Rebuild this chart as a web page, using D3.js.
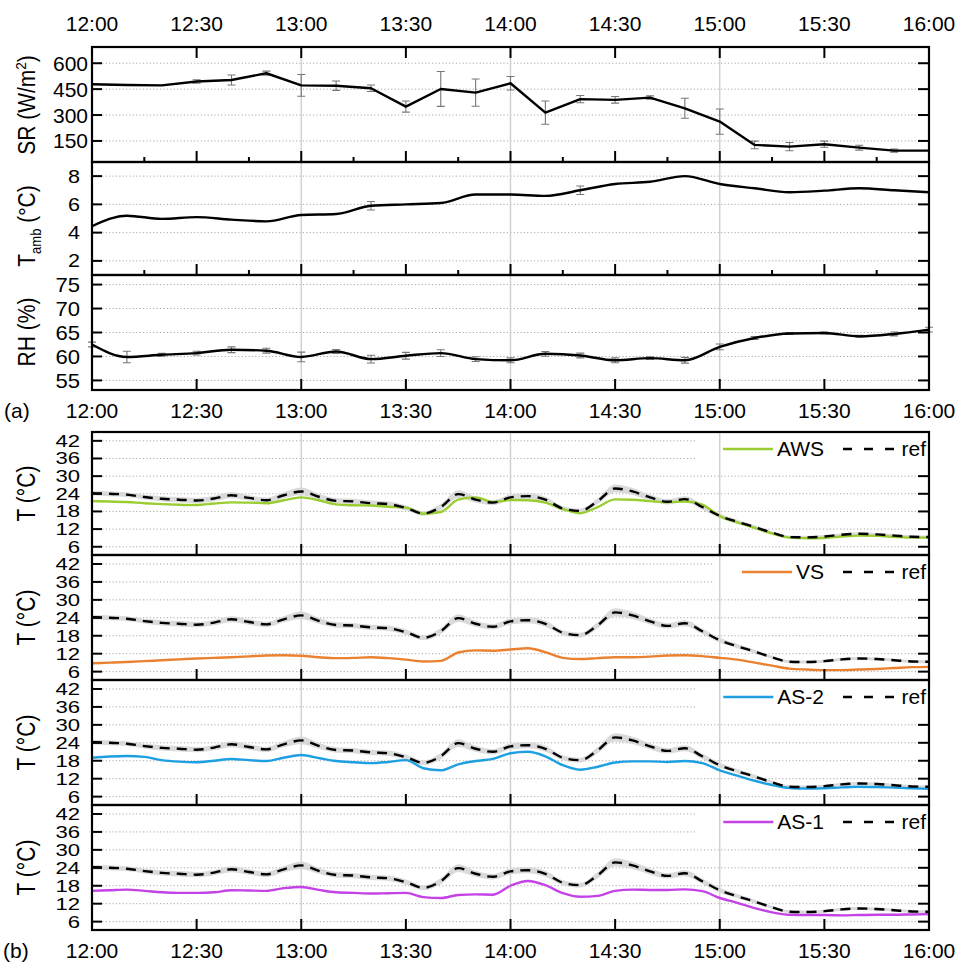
<!DOCTYPE html>
<html><head><meta charset="utf-8">
<script src="https://cdn.jsdelivr.net/npm/d3@7"></script>
<style>
body{margin:0;background:#fff}
svg{display:block}
text{font-family:"Liberation Sans",Arial,Helvetica,sans-serif;fill:#000}
</style>
</head><body>
<svg id="c" width="958" height="962"></svg>
<script>
// ---------- data ----------
const xTickLabels = ["12:00","12:30","13:00","13:30","14:00","14:30","15:00","15:30","16:00"];
const aTimes = ["12:00","12:10","12:20","12:30","12:40","12:50","13:00","13:10","13:20","13:30","13:40","13:50",
  "14:00","14:10","14:20","14:30","14:40","14:50","15:00","15:10","15:20","15:30","15:40","15:50","16:00"];
const srValues = [478,474,472,494,503,542,472,470,455,349,451,430,484,314,392,388,401,339,262,127,117,131,111,94,94];
const srErr    = [0,0,0,10,29,12,63,27,19,32,101,79,39,67,21,19,10,58,73,22,24,18,14,9,0];
const tambValues = [4.45,5.2,4.97,5.1,4.92,4.8,5.25,5.32,5.9,6.0,6.1,6.7,6.7,6.6,7.0,7.44,7.6,8.0,7.44,7.14,6.86,6.97,7.14,7.0,6.86];
const tambErr    = [0,0,0,0,0,0,0,0,0.3,0,0,0,0,0,0.3,0,0,0,0,0,0,0,0,0,0];
const rhValues = [62.5,59.9,60.35,60.7,61.4,61.2,59.9,61.05,59.45,60.15,60.7,59.45,59.2,60.55,60.2,59.2,59.65,59.2,62.0,63.85,64.8,64.9,64.2,64.7,65.6];
const rhErr    = [0.5,1.2,0.3,0.4,0.6,0.5,1.0,0.4,0.8,0.7,0.7,0.5,0.5,0.5,0.5,0.5,0.3,0.6,0.6,0.3,0.2,0.2,0.2,0.4,0.5];

const bTimes = ["12:00","12:05","12:10","12:15","12:20","12:25","12:30","12:35","12:40","12:45","12:50","12:55",
  "13:00","13:05","13:10","13:15","13:20","13:25","13:30","13:35","13:40","13:45","13:50","13:55",
  "14:00","14:05","14:10","14:15","14:20","14:25","14:30","14:35","14:40","14:45","14:50","14:55",
  "15:00","15:05","15:10","15:15","15:20","15:25","15:30","15:35","15:40","15:45","15:50","15:55","16:00"];
const refValues = [24.2,24.0,23.7,22.9,22.3,22.0,21.7,22.4,23.5,22.6,21.8,23.5,
  24.8,23.0,21.6,21.4,20.8,20.5,19.2,17.3,19.5,23.9,22.0,21.0,
  22.8,23.2,22.0,19.0,18.2,21.5,25.8,24.8,22.8,21.3,22.2,19.5,
  16.5,14.5,12.7,10.8,9.3,9.2,9.5,10.1,10.4,10.2,9.8,9.4,9.3];
const refSd = [0.8,0.8,0.8,0.8,0.9,0.9,0.9,0.9,1.0,0.9,0.9,1.0,
  1.3,1.0,0.9,0.9,0.9,0.9,0.9,0.8,1.0,1.3,1.0,0.9,
  1.0,1.0,1.0,0.8,0.8,1.0,1.4,1.2,1.0,0.9,1.0,0.9,
  0.8,0.7,0.6,0.5,0.5,0.5,0.5,0.5,0.5,0.5,0.5,0.5,0.5];
const awsValues = [21.5,21.4,21.2,20.8,20.5,20.3,20.2,20.7,21.1,21.0,20.8,21.8,
  22.8,21.8,20.4,20.1,20.0,19.6,19.3,17.2,17.8,22.0,22.8,21.2,
  21.9,21.8,21.0,18.8,17.4,19.5,22.1,22.0,21.5,21.1,21.4,20.3,
  16.4,14.3,12.4,10.5,9.1,8.9,9.0,9.5,9.8,9.7,9.4,9.1,9.2];
const vsValues = [8.8,9.0,9.2,9.5,9.8,10.1,10.4,10.6,10.8,11.1,11.4,11.5,
  11.3,10.8,10.5,10.6,10.8,10.5,10.0,9.4,9.6,12.4,13.1,13.0,
  13.4,13.8,12.5,10.6,10.2,10.5,10.8,10.8,11.0,11.4,11.5,11.2,
  10.6,10.0,9.0,8.0,7.0,6.7,6.5,6.5,6.7,6.9,7.2,7.5,7.6];
const as2Values = [19.0,19.4,19.6,19.3,18.2,17.7,17.5,18.0,18.6,18.2,17.9,19.0,
  19.9,18.9,17.9,17.5,17.2,17.6,18.2,15.5,14.8,16.8,17.9,18.6,
  20.5,21.0,19.5,16.5,15.0,16.0,17.4,17.8,17.8,17.6,17.9,17.2,
  14.8,13.0,11.3,9.9,8.9,8.7,8.8,9.1,9.3,9.2,9.0,8.8,8.6];
const as1Values = [16.3,16.5,16.7,16.3,15.8,15.6,15.6,15.8,16.5,16.4,16.3,17.2,
  17.6,16.6,15.8,15.6,15.4,15.5,15.6,14.2,13.9,14.9,15.1,15.0,
  18.0,19.6,18.2,15.5,14.3,14.6,16.3,16.7,16.6,16.6,16.8,16.2,
  13.9,12.3,10.5,9.1,8.3,8.2,8.2,8.1,8.2,8.3,8.3,8.4,8.5];
const seriesNames = ["AWS","VS","AS-2","AS-1"];
const seriesColors = ["#9acd32","#ea8131","#1d9fe2","#c443e6"];

const srTicks = [150,300,450,600];
const tambTicks = [2,4,6,8];
const rhTicks = [55,60,65,70,75];
const tTicks = [6,12,18,24,30,36,42];

// ---------- helpers ----------
const svg = d3.select("#c");
const toMin = s => { const [h,m] = s.split(":").map(Number); return (h-12)*60+m; };
const x = d3.scaleLinear().domain([0,240]).range([92,929]);
const L = 92, R = 929;
const majors = xTickLabels.map(toMin);
const minors = d3.range(15,240,30);

const layerGrid = svg.append("g");
const layerBox = svg.append("g");
const layerV = svg.append("g");
const layerData = svg.append("g");
const layerTop = svg.append("g");

function hGrid(y, ticks){
  layerGrid.append("g").selectAll("line").data(ticks).join("line")
    .attr("x1",L).attr("x2",R).attr("y1",d=>y(d)).attr("y2",d=>y(d))
    .attr("stroke","#a8a8a8").attr("stroke-width",1).attr("stroke-dasharray","1.2,2.2");
}
function yAxisMarks(g, y, ticks, opt){
  const rightTicks = opt.rightTicks || ticks;
  g.append("g").selectAll("line").data(ticks).join("line")
    .attr("x1",L).attr("x2",L+10).attr("y1",d=>y(d)).attr("y2",d=>y(d))
    .attr("stroke","#000").attr("stroke-width",2);
  g.append("g").selectAll("line").data(rightTicks).join("line")
    .attr("x1",R-11).attr("x2",R).attr("y1",d=>y(d)).attr("y2",d=>y(d))
    .attr("stroke","#000").attr("stroke-width",2);
  g.append("g").selectAll("text").data(ticks).join("text")
    .attr("transform",d=>`translate(${opt.labelX},${y(d)}) scale(${opt.sx||1},1)`)
    .attr("text-anchor","end").attr("dy","0.36em")
    .style("font-size",opt.fs+"px").text(d=>d);
}
function xMarks(g, yEdge, dir, withMinor){
  g.append("g").selectAll("line").data(majors.slice(1,-1)).join("line")
    .attr("x1",d=>x(d)).attr("x2",d=>x(d)).attr("y1",yEdge).attr("y2",yEdge+dir*11)
    .attr("stroke","#000").attr("stroke-width",2);
  if(withMinor){
    g.append("g").selectAll("line").data(minors).join("line")
      .attr("x1",d=>x(d)).attr("x2",d=>x(d)).attr("y1",yEdge).attr("y2",yEdge+dir*5)
      .attr("stroke","#000").attr("stroke-width",2);
  }
}
function frame(g, top, bottom){
  g.append("rect").attr("x",L).attr("y",top).attr("width",R-L).attr("height",bottom-top)
    .attr("fill","none").attr("stroke","#000").attr("stroke-width",2.2);
}
function vGrid(top,bottom){
  layerV.append("g").selectAll("line").data([60,120,180]).join("line")
    .attr("x1",d=>x(d)).attr("x2",d=>x(d)).attr("y1",top).attr("y2",bottom)
    .attr("stroke","#cfcfcf").attr("stroke-width",1.4);
}
function rotTitle(cx, cy, parts, fs, sy){
  const t = layerTop.append("text")
    .attr("transform",`translate(${cx},${cy}) rotate(-90) scale(1,${sy})`)
    .attr("text-anchor","middle").style("font-size",fs+"px");
  parts.forEach(p=>{
    const ts = t.append("tspan").text(p.t);
    if(p.sup){ ts.style("font-size",(fs*0.65)+"px").attr("dy",-fs*0.4); }
    if(p.sub){ ts.style("font-size",(fs*0.62)+"px").attr("dy",fs*0.25); }
    if(p.back){ ts.attr("dy",p.back); }
  });
  return t;
}

// ---------- panel (a) ----------
const aMin = aTimes.map(toMin);
const panelsA = [
  {top:47, bottom:162, dom:[28,694], vals:srValues, err:srErr, ticks:srTicks, fs:21, sx:1, labelX:88, curve:d3.curveLinear},
  {top:162, bottom:275, dom:[1,9], vals:tambValues, err:tambErr, ticks:tambTicks, fs:18, sx:1.2, labelX:80, curve:d3.curveMonotoneX},
  {top:275, bottom:390, dom:[53,77], vals:rhValues, err:rhErr, ticks:rhTicks, fs:21, sx:1.05, labelX:80, curve:d3.curveMonotoneX}
];
vGrid(47,390);
panelsA.forEach((p,i)=>{
  p.y = d3.scaleLinear().domain(p.dom).range([p.bottom,p.top]);
  hGrid(p.y, p.ticks);
  const g = layerData.append("g");
  const eb = aMin.map((t,k)=>({t, v:p.vals[k], e:p.err[k]})).filter(d=>d.e>0);
  g.selectAll(".eb").data(eb).join("path")
    .attr("d",d=>{const xx=x(d.t), y1=p.y(d.v-d.e), y2=p.y(d.v+d.e);
      return `M${xx},${y1}V${y2}M${xx-4},${y1}H${xx+4}M${xx-4},${y2}H${xx+4}`;})
    .attr("stroke","#777").attr("stroke-width",1.1).attr("fill","none");
  const line = d3.line().x((d,k)=>x(aMin[k])).y(d=>p.y(d)).curve(p.curve);
  g.append("path").attr("d",line(p.vals)).attr("fill","none")
    .attr("stroke","#000").attr("stroke-width",2.4).attr("stroke-linejoin","round");
  const fg = layerTop.append("g");
  frame(fg,p.top,p.bottom);
  yAxisMarks(fg,p.y,p.ticks,p);
  if(i===0){ xMarks(fg,p.top,1,false); xMarks(fg,p.bottom,-1,true); }
  if(i===1){ xMarks(fg,p.bottom,-1,true); }
  if(i===2){ xMarks(fg,p.bottom,-1,false); }
});
layerTop.append("g").selectAll("text").data(xTickLabels).join("text")
  .attr("x",d=>x(toMin(d))).attr("y",31).attr("text-anchor","middle")
  .style("font-size","21px").text(d=>d);
layerTop.append("g").selectAll("text").data(xTickLabels).join("text")
  .attr("x",d=>x(toMin(d))).attr("y",418).attr("text-anchor","middle")
  .style("font-size","21px").text(d=>d);
layerTop.append("text").attr("x",4).attr("y",418).style("font-size","21px").text("(a)");

rotTitle(35,105,[{t:"SR (W/m"},{t:"2",sup:true},{t:")",back:21*0.4}],21,1.12);
rotTitle(35,226,[{t:"T"},{t:"amb",sub:true},{t:" (°C)",back:-21*0.25}],21,1.12);
rotTitle(35,332,[{t:"RH (%)"}],21,1.12);

// ---------- panel (b) ----------
const bMin = bTimes.map(toMin);
const bSeries = [awsValues, vsValues, as2Values, as1Values];
const bTops = [432,555,680,805], bBottom = 930;
vGrid(432,930);
bSeries.forEach((vals,i)=>{
  const top = bTops[i], bottom = i<3 ? bTops[i+1] : bBottom;
  const y = d3.scaleLinear().domain([3.2,45]).range([bottom,top]);
  hGrid(y,tTicks);
  const g = layerData.append("g");
  const area = d3.area().x((d,k)=>x(bMin[k])).y0((d,k)=>y(d-refSd[k])).y1((d,k)=>y(d+refSd[k])).curve(d3.curveMonotoneX);
  g.append("path").attr("d",area(refValues)).attr("fill","#d6d6d6").attr("opacity",0.9);
  const line = d3.line().x((d,k)=>x(bMin[k])).y(d=>y(d)).curve(d3.curveMonotoneX);
  g.append("path").attr("d",line(vals)).attr("fill","none").attr("stroke",seriesColors[i]).attr("stroke-width",2.4);
  g.append("path").attr("d",line(refValues)).attr("fill","none").attr("stroke","#000")
    .attr("stroke-width",2.4).attr("stroke-dasharray","10,7");
  // legend
  const lg = layerTop.append("g");
  const txt = lg.append("text").attr("x",824).attr("y",top+24).attr("text-anchor","end")
    .style("font-size","21px").text(seriesNames[i]);
  const w = txt.node().getComputedTextLength();
  const sx0 = 824 - w - 4;
  lg.append("line").attr("x1",sx0-50).attr("x2",sx0).attr("y1",top+17).attr("y2",top+17)
    .attr("stroke",seriesColors[i]).attr("stroke-width",2.4);
  lg.append("line").attr("x1",843).attr("x2",896).attr("y1",top+17).attr("y2",top+17)
    .attr("stroke","#000").attr("stroke-width",2.4).attr("stroke-dasharray","9,12");
  lg.append("text").attr("x",926).attr("y",top+24).attr("text-anchor","end")
    .style("font-size","21px").text("ref");
  layerBox.append("rect").attr("fill","#fff")
    .attr("x",sx0-78).attr("y",top+1).attr("width",R-(sx0-78)).attr("height",33);
  const fg = layerTop.append("g");
  frame(fg,top,bottom);
  yAxisMarks(fg,y,tTicks,{labelX:80, fs:16.5, sx:1.34, rightTicks:tTicks.filter(d=>y(d)>top+34)});
  xMarks(fg,bottom,-1,false);
  rotTitle(35,(top+bottom)/2,[{t:"T (°C)"}],21,1.2);
});
layerTop.append("g").selectAll("text").data(xTickLabels).join("text")
  .attr("x",d=>x(toMin(d))).attr("y",958).attr("text-anchor","middle")
  .style("font-size","21px").text(d=>d);
layerTop.append("text").attr("x",3).attr("y",958).style("font-size","21px").text("(b)");
</script>
</body></html>
